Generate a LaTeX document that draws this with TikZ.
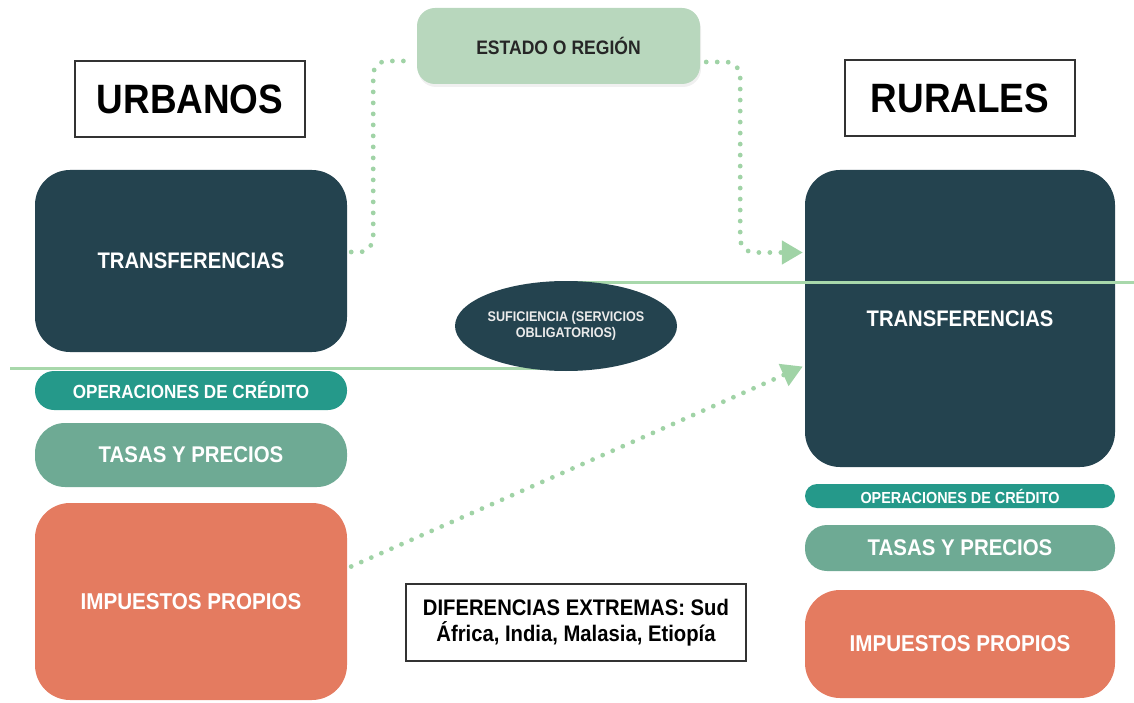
\documentclass[tikz,border=0pt]{standalone}
\usepackage{fontspec}
\setmainfont{Liberation Sans}[FakeStretch=0.9]
\usetikzlibrary{arrows.meta,calc,positioning,shapes.geometric,shadows}

\definecolor{petrol}{HTML}{24434F}
\definecolor{credito}{HTML}{25998A}
\definecolor{sage}{HTML}{6EAA94}
\definecolor{coral}{HTML}{E47B60}
\definecolor{mint}{HTML}{B8D7BD}
\definecolor{dotgreen}{HTML}{A0D3A6}
\definecolor{bandgreen}{HTML}{A8D8AB}

\tikzset{
  fs/.style={font=\fontsize{#1}{#1}\selectfont\bfseries},
  block/.style={fill=#1,text=white,inner sep=0pt,align=center},
  titlebox/.style={draw=black!80,line width=2pt,fill=white,inner sep=0pt,
    minimum width=230pt,minimum height=76pt,fs=41},
  dotlink/.style={dotgreen,line width=4.8pt,line cap=round,
    dash pattern=on 0pt off 11pt},
  band/.style={bandgreen,line width=3pt}
}

\begin{document}
\begin{tikzpicture}[x=1pt,y=-1pt,>=Latex]
 \useasboundingbox (0,0) rectangle (1134,703);
 % titles
 \node[titlebox] (urb) at (190,99.5) {URBANOS};
 \node[titlebox] (rur) at (960,98.5) {RURALES};
 \node[block=mint,text=black!85,rounded corners=18pt,minimum width=283pt,
    minimum height=76pt,fs=19.5,drop shadow={opacity=.12,shadow xshift=1pt,
    shadow yshift=-3pt}] (estado) at (558.5,46) {ESTADO O REGIÓN};
 % urbanos
 \node[block=petrol,rounded corners=35pt,minimum width=312pt,
    minimum height=182pt,fs=22.5] (ltrans) at (191,261) {TRANSFERENCIAS};
 \node[block=credito,rounded corners=19pt,minimum width=312pt,
    minimum height=39pt,fs=19] (lop) at (191,390.5) {OPERACIONES DE CRÉDITO};
 \node[block=sage,rounded corners=30pt,minimum width=312pt,
    minimum height=64pt,fs=22.7] (ltas) at (191,455) {TASAS Y PRECIOS};
 \node[block=coral,rounded corners=35pt,minimum width=312pt,
    minimum height=197pt,fs=22.9] (limp) at (191,601.5) {IMPUESTOS PROPIOS};
 % rurales
 \node[block=petrol,rounded corners=35pt,minimum width=310pt,
    minimum height=297pt,fs=22.5] (rtrans) at (960,318.5) {TRANSFERENCIAS};
 \node[block=credito,rounded corners=12pt,minimum width=310pt,
    minimum height=24pt,fs=16] (rop) at (960,496) {OPERACIONES DE CRÉDITO};
 \node[block=sage,rounded corners=22pt,minimum width=310pt,
    minimum height=46pt,fs=22.7] (rtas) at (960,548) {TASAS Y PRECIOS};
 \node[block=coral,rounded corners=35pt,minimum width=310pt,
    minimum height=108pt,fs=22.9] (rimp) at (960,644) {IMPUESTOS PROPIOS};
 % suficiencia
 \coordinate (topR) at (1134,282);
 \coordinate (botL) at (10,368);
 \draw[band] (566,282) -- (topR);
 \draw[band] (botL) -- (566,368);
 \node[block=petrol,ellipse,minimum width=222pt,minimum height=90pt,
    font=\fontsize{14}{16}\selectfont\bfseries,text=white!92!black]
    (suf) at (566,326) {SUFICIENCIA (SERVICIOS\\OBLIGATORIOS)};
 % dotted links
 \draw[dotlink,rounded corners=14pt] ([xshift=4pt,yshift=9pt]ltrans.east)
    -- ++(22,0) |- ([xshift=-8pt,yshift=-15pt]estado.west);
 \draw[dotlink,rounded corners=14pt,-{Triangle[length=21pt,width=23pt]}]
    ([xshift=6pt,yshift=-16pt]estado.east) -- ++(34,0)
    |- ([xshift=-2pt,yshift=66pt]rtrans.west);
 \draw[dotlink,-{Triangle[length=21pt,width=23pt]}]
    ([xshift=4pt,yshift=35pt]limp.east) -- ([xshift=-2pt,yshift=-48pt]rtrans.west);
 % note
 \node[draw=black!80,line width=1.6pt,minimum width=340pt,minimum height=77pt,
    inner sep=0pt,align=center,font=\fontsize{22.5}{26}\selectfont\bfseries]
    (dif) at (576,622.5) {DIFERENCIAS EXTREMAS: Sud\\África, India, Malasia, Etiopía};
\end{tikzpicture}
\end{document}
